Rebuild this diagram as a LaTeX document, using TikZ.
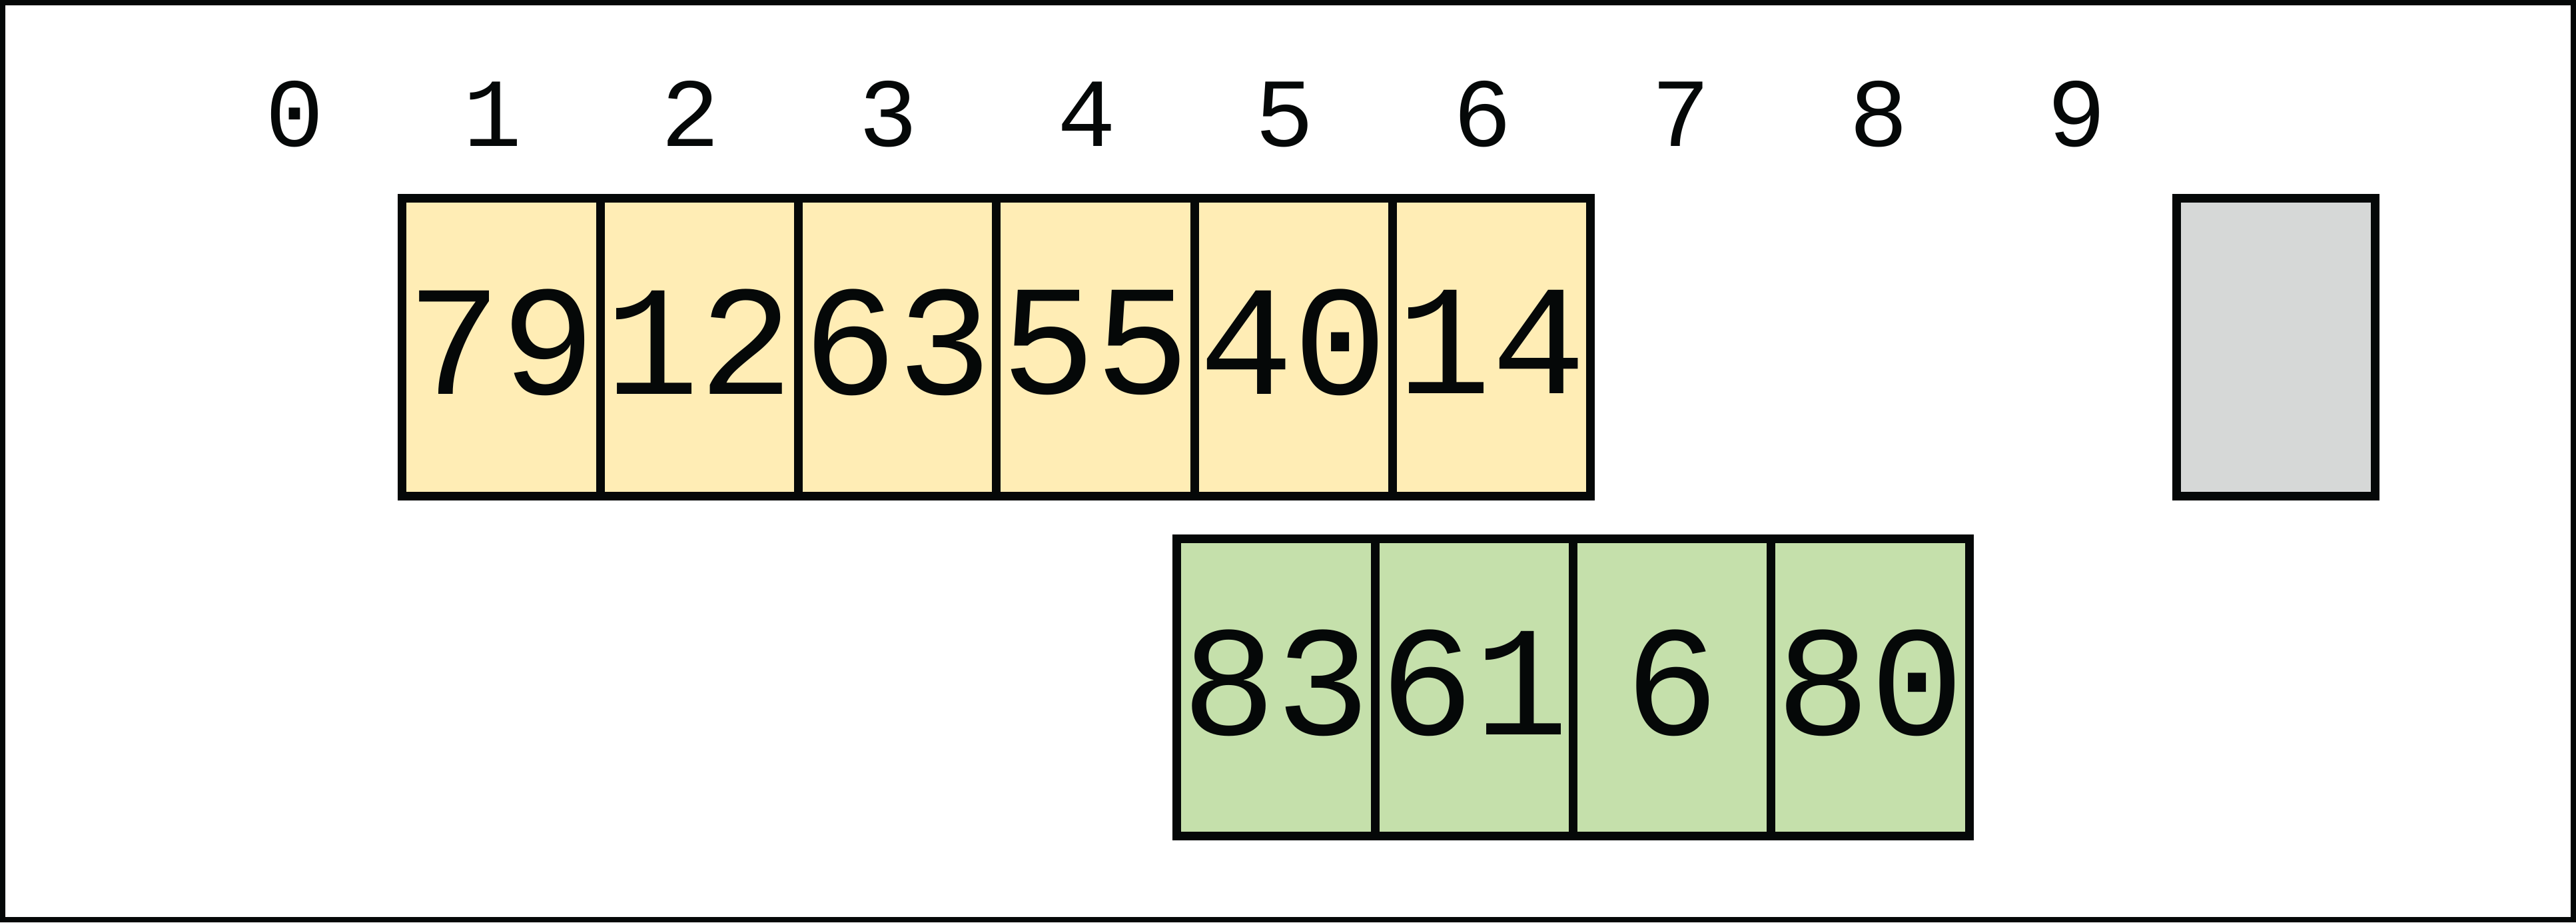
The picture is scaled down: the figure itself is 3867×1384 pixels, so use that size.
\documentclass[tikz,border=0pt]{standalone}
\usepackage{fontspec}
\newfontfamily\cellfont{Liberation Mono}
\definecolor{ylw}{RGB}{255,237,181}
\definecolor{grn}{RGB}{197,224,171}
\definecolor{gry}{RGB}{214,216,215}
\definecolor{ink}{RGB}{5,8,8}
\tikzset{
  cellbox/.style={draw=ink, line width=3.7pt, minimum width=2.973cm, minimum height=4.46cm,
    inner sep=0pt, outer sep=0pt, text depth=4.5pt, font=\cellfont\fontsize{67}{67}\selectfont, text=ink},
  ycell/.style={cellbox, fill=ylw},
  gcell/.style={cellbox, fill=grn},
  graybox/.style={cellbox, fill=gry},
  idx/.style={inner sep=0pt, anchor=base, font=\cellfont\fontsize{41.7}{41.7}\selectfont, text=ink}
}
\begin{document}
\begin{tikzpicture}[x=0.01cm, y=-0.01cm]
\useasboundingbox (0,0) rectangle (3867,1384);
\draw[ink, line width=2.28pt] (4,4) rectangle (3863,1380);
% index labels
\foreach \i in {0,...,9} {
  \node[idx] (idx\i) at ({442+297.3*\i},219) {\i};
}
% yellow row
\node[ycell] (y1) at (752.6,521) {79};
\node[ycell] (y2) at (1049.9,521) {12};
\node[ycell] (y3) at (1347.2,521) {63};
\node[ycell] (y4) at (1644.5,521) {55};
\node[ycell] (y5) at (1941.8,521) {40};
\node[ycell] (y6) at (2239.1,521) {14};
% gray box
\node[graybox] (g) at (3416.5,521) {};
% green row
\node[gcell] (c1) at (1915.7,1031.5) {83};
\node[gcell] (c2) at (2213.0,1031.5) {61};
\node[gcell] (c3) at (2510.3,1031.5) {6};
\node[gcell] (c4) at (2807.6,1031.5) {80};
\end{tikzpicture}
\end{document}
